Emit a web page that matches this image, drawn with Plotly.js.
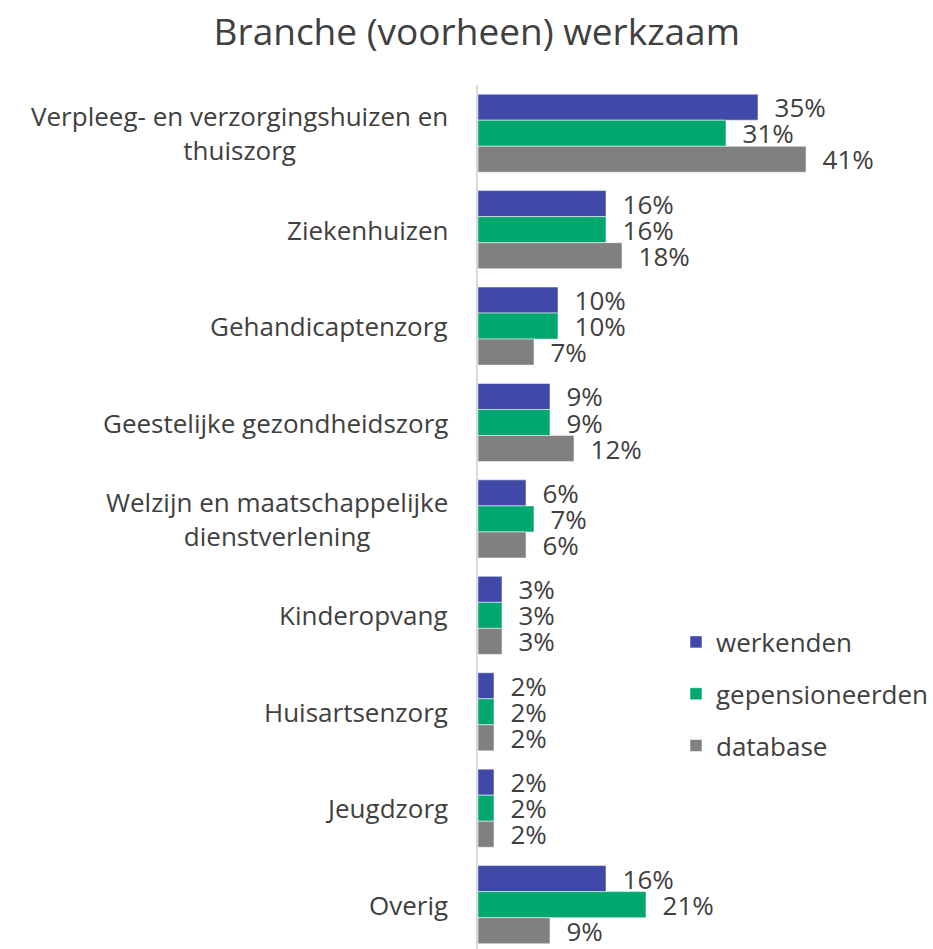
<!DOCTYPE html>
<html><head><meta charset="utf-8">
<script src="https://cdn.plot.ly/plotly-3.0.1.min.js"></script>
<style>html,body{margin:0;padding:0;background:#fff}#chart{width:933px;height:949px}</style>
</head><body><div id="chart"></div>
<script>
const categories = ["Verpleeg- en verzorgingshuizen en<br>thuiszorg","Ziekenhuizen","Gehandicaptenzorg","Geestelijke gezondheidszorg","Welzijn en maatschappelijke<br>dienstverlening","Kinderopvang","Huisartsenzorg","Jeugdzorg","Overig"];
const catKeys = ["c0","c1","c2","c3","c4","c5","c6","c7","c8"];
const werkenden = [35,16,10,9,6,3,2,2,16];
const gepensioneerden = [31,16,10,9,7,3,2,2,21];
const database = [41,18,7,12,6,3,2,2,9];
const seriesNames = ["werkenden","gepensioneerden","database"];
const seriesColors = ["#4149a8","#00a870","#808080"];

const font = "Open Sans, sans-serif";
const txt = "#404040";
const data = [werkenden, gepensioneerden, database].map((vals,i)=>({
  type:"bar", orientation:"h", name:seriesNames[i], legendgroup:"g"+i,
  y:catKeys, x:vals,
  marker:{color:seriesColors[i], line:{color:"rgba(255,255,255,0.5)", width:1}},
  text:vals.map(v=>"\u00a0\u00a0"+v+"%"), textposition:"outside", constraintext:"none", cliponaxis:false,
  textfont:{family:font,size:26,color:txt}, hoverinfo:"none"
}));

const annotations = categories.map((c,i)=>({
  xref:"paper", yref:"y", x:0, y:catKeys[i], xanchor:"right", yanchor:"middle",
  xshift:-28, text:c, showarrow:false, align:"center",
  font:{family:font,size:26,color:txt}
}));

const layout = {
  width:933, height:949,
  margin:{l:478, r:0, t:85, b:0, pad:0, autoexpand:false},
  paper_bgcolor:"#fff", plot_bgcolor:"#fff",
  title:{text:"Branche (voorheen) werkzaam", font:{family:font,size:37,color:txt}, x:0.511, xanchor:"center", y:0.966, yanchor:"middle"},
  barmode:"group", bargap:0.19, bargroupgap:0,
  xaxis:{range:[0,56.875], autorange:false, showgrid:false, zeroline:false, showticklabels:false, showline:false, fixedrange:true},
  yaxis:{type:"category", range:[8.46,-0.5], autorange:false, showticklabels:false, showgrid:false, zeroline:false, showline:true, linecolor:"#d9d9d9", linewidth:2, ticks:""},
  showlegend:true,
  legend:{x:1, xanchor:"right", y:0.3825, yanchor:"top", traceorder:"grouped", tracegroupgap:15, font:{family:font,size:26,color:txt}, bgcolor:"rgba(0,0,0,0)", itemwidth:30},
  annotations:annotations
};
Plotly.newPlot("chart", data, layout, {staticPlot:true});
</script></body></html>
